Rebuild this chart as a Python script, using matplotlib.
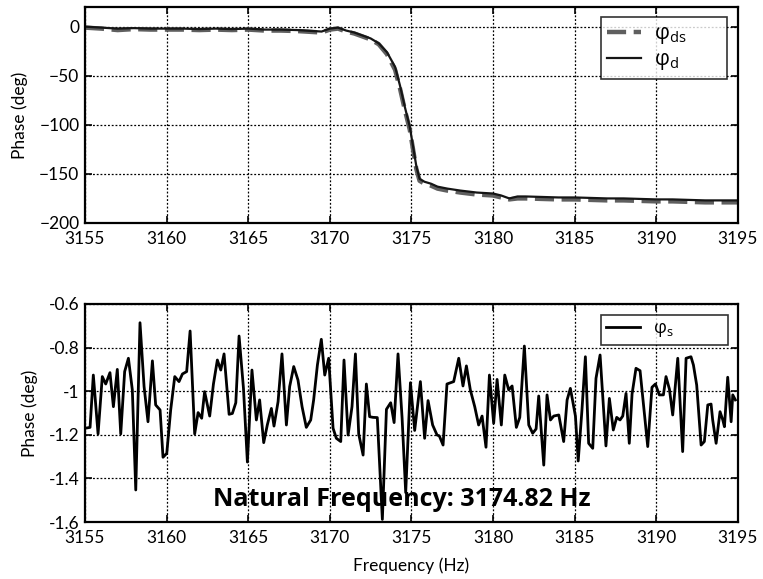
import matplotlib
matplotlib.use("Agg")
import matplotlib.pyplot as plt
import numpy as np

plt.rcParams['font.family'] = ['Lato', 'DejaVu Sans']
plt.rcParams['mathtext.fontset'] = 'custom'
plt.rcParams['mathtext.rm'] = 'Open Sans'
plt.rcParams['mathtext.it'] = 'Open Sans:italic'

# ---- top panel data ----
freq_top = [3155, 3156, 3157, 3158, 3159, 3160, 3161, 3162, 3163, 3164, 3165, 3166,
            3167, 3168, 3169, 3169.5, 3170, 3170.5, 3171, 3171.5, 3172, 3172.5, 3173,
            3173.5, 3174, 3174.3, 3174.6, 3174.9, 3175.1, 3175.3, 3175.5, 3175.8,
            3176.2, 3176.6, 3177.2, 3178, 3179, 3180, 3180.5, 3181, 3181.5, 3182,
            3183, 3184, 3185, 3186, 3187, 3188, 3189, 3190, 3191, 3192, 3193, 3194, 3195]
phase_d = [0, -1, -2, -1.5, -2, -2, -2, -2.5, -2, -2.5, -2, -3,
           -3, -3.5, -4.5, -5, -2, -1, -4, -6, -9, -12, -17,
           -26, -41, -60, -82, -102, -122, -142, -155, -158,
           -160, -163, -165, -167, -169, -170, -172, -175, -173, -173,
           -173.5, -174, -174, -174.5, -175, -175, -175.5, -176, -176, -176.5, -177, -177, -177]
phase_ds = [-1, -2, -3.5, -2.5, -3, -3, -3, -3.5, -3, -3.5, -3, -4,
            -4, -4.5, -5.5, -6, -3, -2, -5, -7, -10, -13, -18,
            -28, -44, -63, -85, -105, -125, -145, -157, -160,
            -162, -165, -167, -169, -171, -172, -174, -176, -175, -175,
            -175.5, -176, -176, -176.5, -177, -177, -177.5, -178, -178, -178.5, -179, -179, -179]

# ---- bottom panel data ----
freq_s = [3155.00, 3155.31, 3155.51, 3155.80, 3156.06, 3156.27, 3156.53, 3156.74, 3156.98,
          3157.19, 3157.43, 3157.66, 3157.90, 3158.11, 3158.37, 3158.62, 3158.86, 3159.13,
          3159.33, 3159.60, 3159.78, 3160.01, 3160.25, 3160.50, 3160.76, 3160.97, 3161.23,
          3161.44, 3161.72, 3161.93, 3162.15, 3162.33, 3162.64, 3162.87, 3163.11, 3163.32,
          3163.52, 3163.83, 3164.03, 3164.24, 3164.44, 3164.71, 3164.95,
          3165.23, 3165.50, 3165.70, 3165.95, 3166.17, 3166.42, 3166.58, 3166.83, 3167.07,
          3167.34, 3167.54, 3167.79, 3168.05, 3168.30, 3168.56, 3168.83, 3169.01, 3169.24,
          3169.48, 3169.69, 3169.93, 3170.20, 3170.40, 3170.67, 3170.87, 3171.12, 3171.36,
          3171.57, 3171.77, 3172.04, 3172.24, 3172.44, 3172.65, 3172.91, 3173.22, 3173.47,
          3173.73, 3173.94, 3174.18, 3174.43, 3174.65, 3174.94,
          3175.20, 3175.55, 3175.81, 3176.02, 3176.30, 3176.57, 3176.71, 3176.94, 3177.18,
          3177.59, 3177.90, 3178.16, 3178.37, 3178.61, 3178.88, 3179.12, 3179.33, 3179.57,
          3179.78, 3180.04, 3180.25, 3180.51, 3180.72, 3180.96, 3181.17, 3181.43, 3181.64,
          3181.92, 3182.19, 3182.43, 3182.64, 3182.80, 3183.11, 3183.31, 3183.52, 3183.72,
          3184.03, 3184.33, 3184.54, 3184.74, 3185.05, 3185.22,
          3185.45, 3185.66, 3185.86, 3186.11, 3186.31, 3186.56, 3186.92, 3187.13, 3187.37,
          3187.58, 3187.78, 3187.95, 3188.15, 3188.35, 3188.52, 3188.76, 3189.01, 3189.27,
          3189.48, 3189.74, 3189.95, 3190.19, 3190.44, 3190.60, 3190.81, 3191.01, 3191.32,
          3191.62, 3191.83, 3192.13, 3192.28, 3192.48, 3192.75, 3192.95, 3193.16, 3193.36,
          3193.46, 3193.67, 3193.91, 3194.08, 3194.18, 3194.38, 3194.59, 3194.69, 3194.85]
phase_s = [-1.170, -1.166, -0.926, -1.196, -0.933, -0.967, -0.915, -1.071, -0.900,
           -1.196, -0.910, -0.849, -0.994, -1.453, -0.686, -0.979, -1.140, -0.861,
           -1.063, -1.086, -1.303, -1.285, -1.086, -0.933, -0.956, -0.921, -0.910,
           -0.724, -1.196, -1.098, -1.124, -1.002, -1.114, -0.967, -0.857, -0.903,
           -0.829, -1.106, -1.102, -1.053, -0.747, -0.987, -1.325,
           -0.903, -1.132, -1.040, -1.236, -1.155, -1.079, -1.160, -1.048, -0.829,
           -1.155, -0.979, -0.887, -0.949, -1.071, -1.166, -1.132, -1.040, -0.880,
           -0.762, -0.926, -0.849, -1.170, -1.216, -1.231, -0.857, -1.201, -1.071,
           -0.829, -1.196, -1.293, -0.967, -1.117, -1.120, -1.121, -1.588, -1.083,
           -1.053, -1.144, -0.829, -1.124, -1.465, -0.961,
           -1.180, -0.956, -1.216, -1.043, -1.155, -1.201, -1.205, -1.247, -0.967,
           -0.956, -0.849, -0.976, -0.884, -0.994, -1.071, -1.155, -1.114, -1.257,
           -0.926, -1.147, -0.946, -1.155, -0.926, -0.994, -0.976, -1.166, -1.120,
           -0.793, -1.155, -1.193, -1.173, -1.022, -1.339, -1.017, -1.132, -1.114,
           -1.109, -1.231, -1.040, -0.987, -1.114, -1.320,
           -1.086, -0.842, -1.239, -1.262, -0.941, -0.834, -1.251, -1.033, -1.178,
           -1.120, -1.132, -1.114, -1.010, -1.239, -1.013, -0.895, -0.906, -1.101,
           -1.254, -0.982, -0.967, -1.017, -1.017, -0.933, -0.991, -1.109, -0.849,
           -1.277, -0.849, -0.842, -0.880, -0.972, -1.247, -1.231, -1.063, -1.059,
           -1.132, -1.239, -1.094, -1.132, -1.163, -0.936, -1.140, -1.017, -1.040]

xticks = [3155, 3160, 3165, 3170, 3175, 3180, 3185, 3190, 3195]
yticks_top = [-200, -150, -100, -50, 0]
yticks_bot = [-1.6, -1.4, -1.2, -1, -0.8, -0.6]
ytick_labels_bot = ['-1.6', '-1.4', '-1.2', '-1', '-0.8', '-0.6']
natural_freq_text = 'Natural Frequency: 3174.82 Hz'

fig = plt.figure(figsize=(7.63, 5.79), dpi=100)
ax1 = fig.add_axes([0.1114, 0.6149, 0.8556, 0.3730])
ax2 = fig.add_axes([0.1114, 0.0984, 0.8556, 0.3766])

def style(ax):
    ax.set_xlim(3155, 3195)
    ax.set_xticks(xticks)
    ax.grid(True, linestyle=(0, (1.5, 1.5)), color='black', linewidth=0.9)
    ax.tick_params(direction='in', top=True, right=True, length=5, width=1.2,
                   labelsize=12.5, colors='black')
    ax.tick_params(axis='x', pad=6)
    ax.tick_params(axis='y', pad=4)
    for s in ax.spines.values():
        s.set_linewidth(1.6)
        s.set_color('black')

ax1.plot(freq_top, phase_ds, color='#5f5f5f', linewidth=3.2, dashes=(4.3, 1.7),
         label=r'$\mathrm{φ_{ds}}$', solid_capstyle='butt', dash_capstyle='butt')
ax1.plot(freq_top, phase_d, color='#151515', linewidth=1.6, label=r'$\mathrm{φ_{d}}$')
style(ax1)
ax1.set_ylim(-200, 20)
ax1.set_yticks(yticks_top)
ax1.set_ylabel('Phase (deg)', fontsize=12.5, labelpad=8)
leg1 = ax1.legend(loc='upper left', bbox_to_anchor=(0.790, 0.0, 0.193, 0.954),
                  mode='expand', fontsize=15,
                  frameon=True, fancybox=False, edgecolor='black', handlelength=1.65,
                  borderpad=0.3, labelspacing=0.15, handletextpad=0.6, borderaxespad=0)
leg1.get_frame().set_linewidth(1.2)

ax2.plot(freq_s, phase_s, color='black', linewidth=2.0, label=r'$\mathrm{φ_{s}}$')
style(ax2)
ax2.set_ylim(-1.6, -0.6)
ax2.set_yticks(yticks_bot)
ax2.set_yticklabels(ytick_labels_bot)
ax2.set_ylabel('Phase (deg)', fontsize=12.5, labelpad=8)
ax2.set_xlabel('Frequency (Hz)', fontsize=12.5, labelpad=8)
leg2 = ax2.legend(loc='upper left', bbox_to_anchor=(0.790, 0.0, 0.195, 0.950),
                  mode='expand', fontsize=13,
                  frameon=True, fancybox=False, edgecolor='black', handlelength=1.9,
                  borderpad=0.3, handletextpad=0.7, borderaxespad=0)
leg2.get_frame().set_linewidth(1.2)
ax2.text(0.485, 0.105, natural_freq_text, transform=ax2.transAxes, ha='center',
         va='center', fontsize=18, fontweight='bold', family=['Open Sans', 'DejaVu Sans'])

fig.savefig('out.png', dpi=100)
